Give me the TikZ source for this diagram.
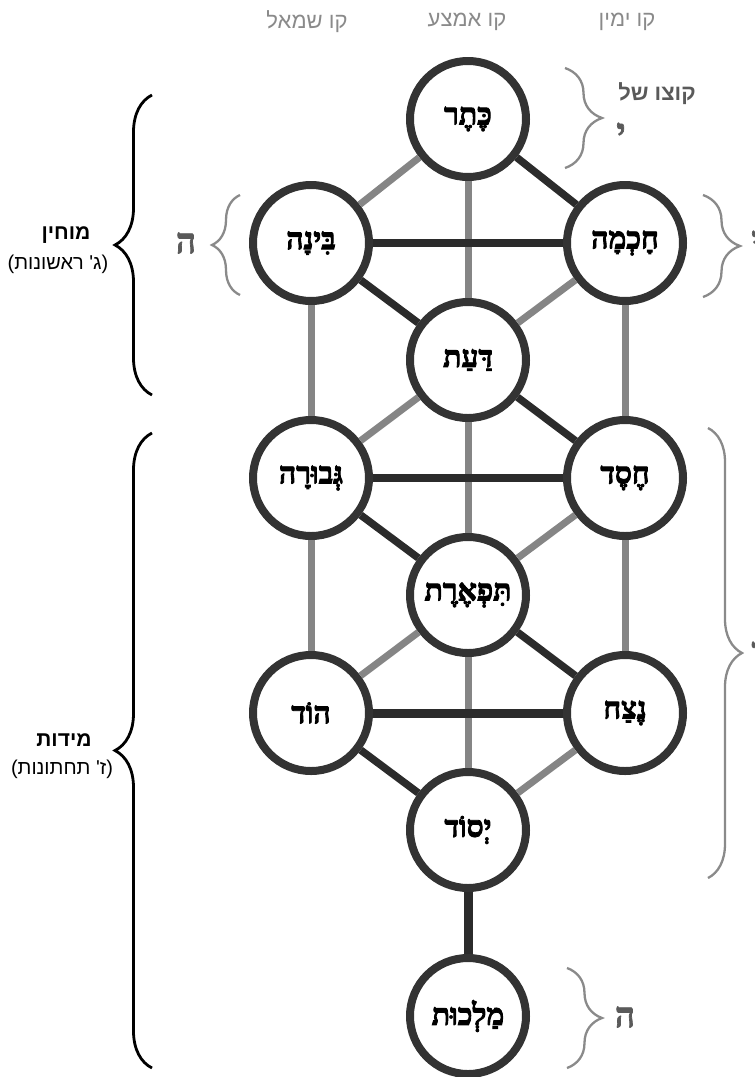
\documentclass[tikz,border=0pt]{standalone}
\usepackage{fontspec}
\TeXXeTstate=1
\newfontfamily\hserifb[Script=Hebrew, FakeBold=3]{Liberation Serif Bold}
\newfontfamily\hserifbb[Script=Hebrew, FakeBold=2]{Liberation Serif Bold}
\newfontfamily\hsans[Script=Hebrew]{Liberation Sans}
\newfontfamily\hsansb[Script=Hebrew]{Liberation Sans Bold}
\newfontfamily\latsans{Liberation Sans}
\usetikzlibrary{decorations.pathreplacing}
\definecolor{ringc}{HTML}{333333}
\definecolor{darkedge}{HTML}{2B2B2B}
\definecolor{grayedge}{HTML}{858585}
\definecolor{headc}{HTML}{8A8A8A}
\definecolor{bracegray}{HTML}{8A8A8A}
\definecolor{lettergray}{HTML}{5A5A5A}
\begin{document}
\begin{tikzpicture}[x=1pt,y=-1pt,
  sefira/.style={circle, draw=ringc, line width=8pt, fill=white, minimum size=116pt, inner sep=0pt,
    font=\hserifb\fontsize{30}{33}\selectfont},
  darkline/.style={draw=darkedge, line width=7.5pt},
  thickline/.style={draw=darkedge, line width=9pt},
  grayline/.style={draw=grayedge, line width=7pt},
  bigbrace/.style={decorate, decoration={brace, amplitude=37pt}, line width=2.8pt, draw=black},
  smallbrace/.style={decorate, decoration={brace, amplitude=#1}, line width=2.3pt, draw=bracegray},
  headtext/.style={text=headc, font=\hsans\fontsize{22}{26}\selectfont, inner sep=0pt},
  sidebold/.style={text=black, font=\hsansb\fontsize{21}{24}\selectfont, inner sep=0pt},
  sidereg/.style={text=black, font=\hsans\fontsize{20}{24}\selectfont, inner sep=0pt},
  yhvh/.style={text=lettergray, font=\hserifbb\fontsize{35}{38}\selectfont, inner sep=0pt},
  kotzo/.style={text=lettergray, font=\hsansb\fontsize{22}{24}\selectfont, inner sep=0pt}
]
\useasboundingbox (0,0) rectangle (755,1077);
\clip (0,0) rectangle (755,1077);

% column headers
\node[headtext] (hleft) at (307,22) {\beginR קו שמאל\endR};
\node[headtext] (hmid) at (467,22) {\beginR קו אמצע\endR};
\node[headtext] (hright) at (627,22) {\beginR קו ימין\endR};

% sefirot
\node[sefira] (keter) at (468,119) {\beginR כֶּתֶר\endR};
\node[sefira] (binah) at (311,243) {\beginR בִּינָה\endR};
\node[sefira] (chochma) at (625,243) {\beginR חָכְמָה\endR};
\node[sefira] (daat) at (468,360) {\beginR דַּעַת\endR};
\node[sefira] (gevurah) at (311,478) {\beginR גְּבוּרָה\endR};
\node[sefira] (chesed) at (625,478) {\beginR חֶסֶד\endR};
\node[sefira] (tiferet) at (468,595) {\beginR תִּפְאֶרֶת\endR};
\node[sefira] (hod) at (311,713) {\beginR הוֹד\endR};
\node[sefira] (netzach) at (625,713) {\beginR נֶצַח\endR};
\node[sefira] (yesod) at (468,830) {\beginR יְסוֹד\endR};
\node[sefira] (malchut) at (468,1016) {\beginR מַלְכוּת\endR};

% gray connectors
\draw[grayline] (keter) -- (binah);
\draw[grayline] (keter) -- (daat);
\draw[grayline] (chochma) -- (daat);
\draw[grayline] (binah) -- (gevurah);
\draw[grayline] (chochma) -- (chesed);
\draw[grayline] (daat) -- (gevurah);
\draw[grayline] (daat) -- (tiferet);
\draw[grayline] (chesed) -- (tiferet);
\draw[grayline] (gevurah) -- (hod);
\draw[grayline] (chesed) -- (netzach);
\draw[grayline] (tiferet) -- (hod);
\draw[grayline] (tiferet) -- (yesod);
\draw[grayline] (netzach) -- (yesod);

% dark connectors
\draw[darkline] (keter) -- (chochma);
\draw[darkline] (binah) -- (chochma);
\draw[darkline] (binah) -- (daat);
\draw[darkline] (daat) -- (chesed);
\draw[darkline] (gevurah) -- (chesed);
\draw[darkline] (gevurah) -- (tiferet);
\draw[darkline] (tiferet) -- (netzach);
\draw[thickline] (hod) -- (netzach);
\draw[darkline] (hod) -- (yesod);
\draw[thickline] (yesod) -- (malchut);

% left black braces and labels
\draw[bigbrace] (152,395) -- (152,95);
\draw[bigbrace] (152,1068) -- (152,433);
\node[sidebold] (mochin) at (66,235) {\beginR מוחין\endR};
\node[sidereg] (mochinsub) at (58,264) {{\latsans(}\hbox{\beginR ג' ראשונות\endR}{\latsans)}};
\node[sidebold] (midot) at (64,740) {\beginR מידות\endR};
\node[sidereg] (midotsub) at (62,769) {{\latsans(}\hbox{\beginR ז' תחתונות\endR}{\latsans)}};

% gray braces with letters
\draw[smallbrace=37pt] (565,68) -- (565,168);
\node[kotzo] (kotzotext) at (657,94) {\beginR קוצו של\endR};
\node[yhvh] (yud1) at (621,133) {\beginR י\endR};

\draw[smallbrace=28pt] (240,295) -- (240,195);
\node[yhvh] (he1) at (186,243) {\beginR ה\endR};

\draw[smallbrace=37pt] (703,195) -- (703,297);
\node[yhvh] (yud2) at (756,241) {\beginR י\endR};

\draw[smallbrace=34pt] (708,428) -- (708,878);
\node[yhvh] (vav) at (756,652) {\beginR ו\endR};

\draw[smallbrace=35pt] (567,968) -- (567,1068);
\node[yhvh] (he2) at (625,1017) {\beginR ה\endR};
\end{tikzpicture}
\end{document}
